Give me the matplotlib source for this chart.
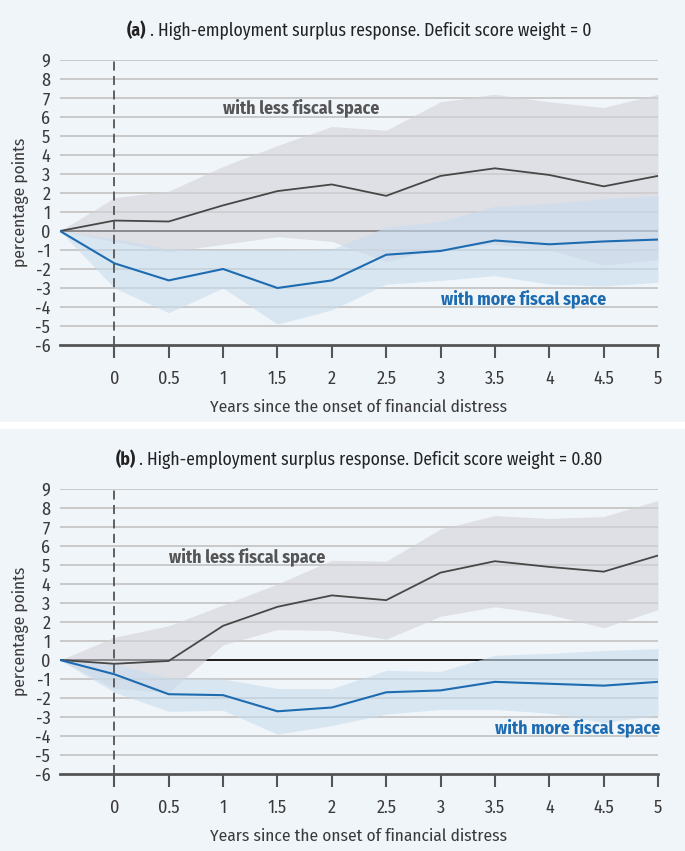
import matplotlib
matplotlib.use('Agg')
import matplotlib.pyplot as plt
from matplotlib.patches import Rectangle

plt.rcParams['font.family'] = ['Fira Sans Condensed', 'DejaVu Sans']

####################
# Data             #
####################

years = [-0.5, 0, 0.5, 1, 1.5, 2, 2.5, 3, 3.5, 4, 4.5, 5]
xticks = [0, 0.5, 1, 1.5, 2, 2.5, 3, 3.5, 4, 4.5, 5]
xtick_labels = ['0', '0.5', '1', '1.5', '2', '2.5', '3', '3.5', '4', '4.5', '5']
yticks = [-6, -5, -4, -3, -2, -1, 0, 1, 2, 3, 4, 5, 6, 7, 8, 9]

# Panel (a): deficit score weight = 0
a_less = [0, 0.55, 0.5, 1.35, 2.1, 2.45, 1.85, 2.9, 3.3, 2.95, 2.35, 2.9]
a_less_hi = [0, 1.75, 2.1, 3.4, 4.5, 5.5, 5.3, 6.8, 7.2, 6.8, 6.5, 7.2]
a_less_lo = [0, -0.55, -1.1, -0.7, -0.3, -0.55, -1.6, -0.9, -0.7, -1.0, -1.8, -1.5]
a_more = [0, -1.7, -2.6, -2.0, -3.0, -2.6, -1.25, -1.05, -0.5, -0.7, -0.55, -0.45]
a_more_hi = [0, -0.4, -0.95, -1.0, -1.0, -0.95, 0.2, 0.5, 1.3, 1.45, 1.7, 1.85]
a_more_lo = [0, -3.0, -4.3, -3.0, -4.9, -4.15, -2.8, -2.6, -2.35, -2.8, -2.9, -2.7]

# Panel (b): deficit score weight = 0.80
b_less = [0, -0.2, -0.05, 1.8, 2.8, 3.4, 3.15, 4.6, 5.2, 4.9, 4.65, 5.5]
b_less_hi = [0, 1.2, 1.8, 2.9, 4.0, 5.25, 5.2, 6.9, 7.6, 7.45, 7.55, 8.4]
b_less_lo = [0, -1.5, -1.7, 0.8, 1.6, 1.55, 1.1, 2.3, 2.8, 2.4, 1.7, 2.65]
b_more = [0, -0.75, -1.8, -1.85, -2.7, -2.5, -1.7, -1.6, -1.15, -1.25, -1.35, -1.15]
b_more_hi = [0, -0.2, -0.95, -1.0, -1.5, -1.5, -0.55, -0.6, 0.25, 0.35, 0.5, 0.6]
b_more_lo = [0, -1.7, -2.7, -2.65, -3.9, -3.45, -2.85, -2.6, -2.6, -2.8, -3.3, -2.9]

# Colours
bg = '#f0f5fa'
grey_line = '#474747'
grey_band = '#d4d3da'
blue_line = '#1d6bb0'
blue_band = '#c8dced'
text_col = '#3a3a3a'

W, H = 685, 851
fig = plt.figure(figsize=(W / 100, H / 100), dpi=100, facecolor='white')

# Panel backgrounds (two boxes with a white gap)
fig.patches.append(Rectangle((0, 1 - 422 / H), 1, 422 / H, transform=fig.transFigure,
                             facecolor=bg, edgecolor='none', zorder=-10))
fig.patches.append(Rectangle((0, 0), 1, 422 / H, transform=fig.transFigure,
                             facecolor=bg, edgecolor='none', zorder=-10))


def draw_panel(top, tag, rest, less, less_hi, less_lo, more, more_hi, more_lo,
               less_pos, more_pos, more_ha):
    ax = fig.add_axes([60 / W, 1 - (top + 345) / H, 598 / W, 285 / H])
    ax.set_facecolor('none')
    ax.set_xlim(-0.5, 5)
    ax.set_ylim(-6, 9)

    # grid lines
    for y in yticks:
        if y == -6:
            continue
        ax.axhline(y, color='#c9c9c9', linewidth=1.4, zorder=1)
    ax.axhline(0, color='#1e1e1e', linewidth=1.4, zorder=1.5)

    # confidence bands
    ax.fill_between(years, less_lo, less_hi, color=grey_band, alpha=0.6,
                    linewidth=0, zorder=2)
    ax.fill_between(years, more_lo, more_hi, color=blue_band, alpha=0.6,
                    linewidth=0, zorder=2.1)

    # point estimates
    ax.plot(years, less, color=grey_line, linewidth=1.3, zorder=4)
    ax.plot(years, more, color=blue_line, linewidth=1.5, zorder=4)

    # onset line
    ax.axvline(0, color='#555555', linewidth=1.3, dashes=(5, 3), zorder=5)

    for s in ['top', 'right', 'left']:
        ax.spines[s].set_visible(False)
    ax.spines['bottom'].set_color('#555555')
    ax.spines['bottom'].set_linewidth(2)
    ax.spines['bottom'].set_zorder(6)

    ax.set_yticks(yticks)
    ax.set_yticklabels([str(v) for v in yticks])
    ax.tick_params(axis='y', length=0, pad=7, labelsize=13, labelcolor=text_col)
    ax.set_xticks(xticks)
    ax.set_xticklabels(xtick_labels)
    ax.tick_params(axis='x', length=9, width=1.5, color='#555555', pad=9,
                   labelsize=13, labelcolor=text_col)

    ax.set_ylabel('percentage points', fontsize=12.5, color=text_col, labelpad=4)
    ax.set_xlabel('Years since the onset of financial distress', fontsize=12.5,
                  color=text_col, labelpad=8)

    ax.text(less_pos[0], less_pos[1], 'with less fiscal space', color='#555555',
            fontsize=12.8, fontweight='bold', ha='left', va='center', zorder=6)
    ax.text(more_pos[0], more_pos[1], 'with more fiscal space', color=blue_line,
            fontsize=12.8, fontweight='bold', ha=more_ha, va='center', zorder=6)

    # title: bold tag followed by plain text, centred over the plot
    ty = 1 - (top + 31) / H
    t1 = fig.text(0, ty, tag, fontsize=12.7, fontweight='bold', color='#222222',
                  ha='left', va='center')
    t2 = fig.text(0, ty, rest, fontsize=12.7, color='#222222', ha='left', va='center')
    r = fig.canvas.get_renderer()
    w1 = t1.get_window_extent(r).width
    w2 = t2.get_window_extent(r).width
    x0 = 359 - (w1 + w2) / 2
    t1.set_x(x0 / W)
    t2.set_x((x0 + w1) / W)
    return ax


draw_panel(0, '(a)', ' . High-employment surplus response. Deficit score weight = 0',
           a_less, a_less_hi, a_less_lo, a_more, a_more_hi, a_more_lo,
           (1.0, 6.5), (3.0, -3.55), 'left')
draw_panel(429, '(b)', ' . High-employment surplus response. Deficit score weight = 0.80',
           b_less, b_less_hi, b_less_lo, b_more, b_more_hi, b_more_lo,
           (0.5, 5.45), (5.02, -3.55), 'right')

fig.savefig('out.png', dpi=100, facecolor='white')
